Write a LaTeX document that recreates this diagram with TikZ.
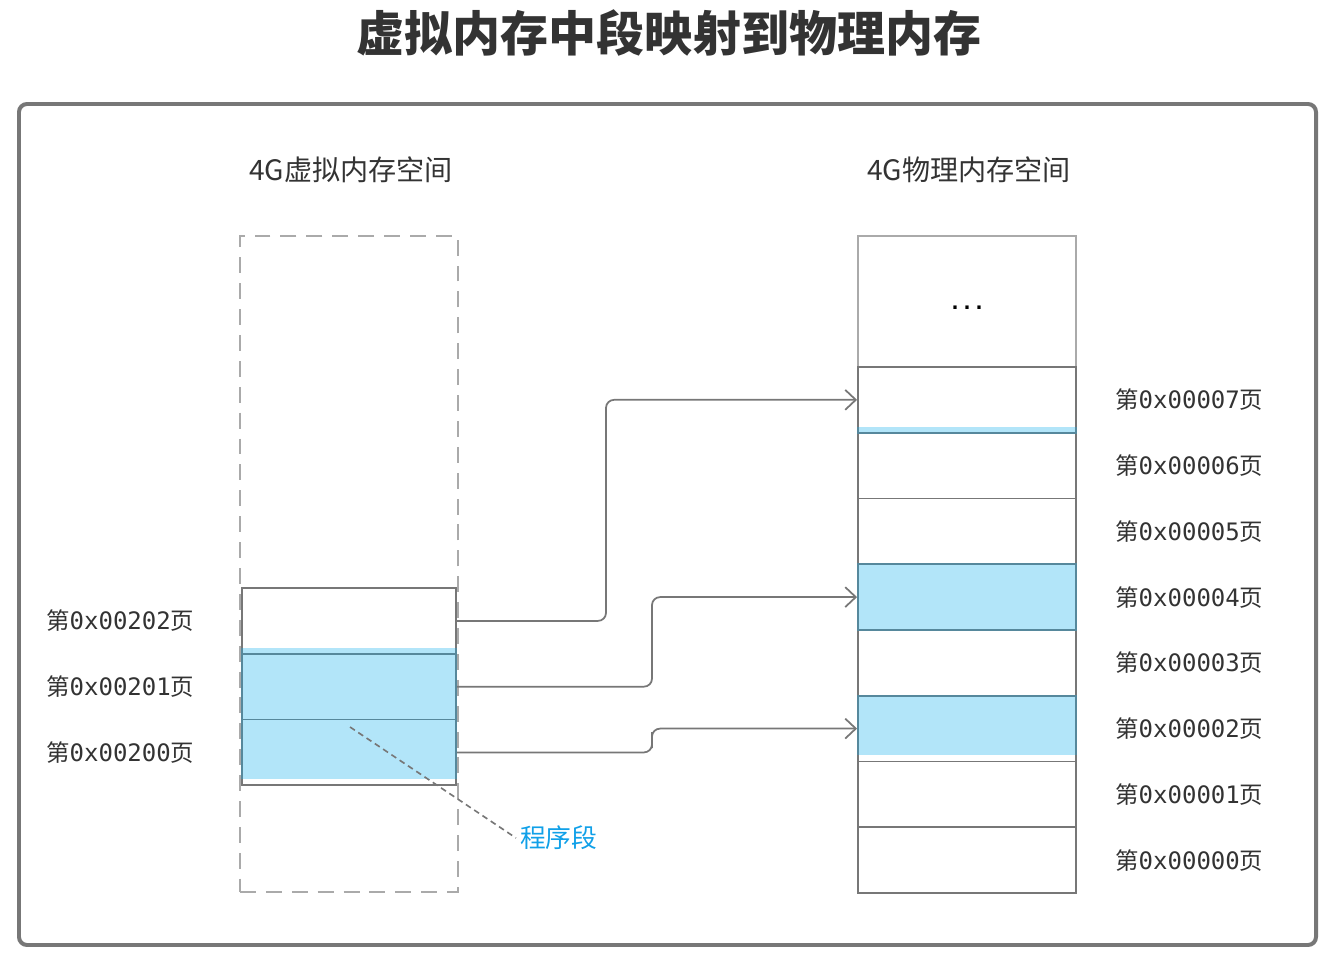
\documentclass[tikz,border=0pt]{standalone}
\usepackage{fontspec}
\usetikzlibrary{arrows.meta,calc}
\newfontfamily\cjk{Noto Sans CJK SC}
\newfontfamily\mono{DejaVu Sans Mono}
\definecolor{linegray}{RGB}{119,119,119}
\definecolor{dashgray}{RGB}{170,170,170}
\definecolor{textgray}{RGB}{51,51,51}
\definecolor{segblue}{RGB}{17,174,236}
\definecolor{segtext}{RGB}{16,160,232}
\newcommand{\pagelbl}[1]{{\fontsize{20}{22}\selectfont\cjk 第}{\fontsize{20.5}{22}\selectfont\mono 0x#1}{\fontsize{20}{22}\selectfont\cjk 页}}

\tikzset{
  pagebox/.style={draw=linegray, line width=1.6pt, minimum height=1.9725cm, inner sep=0pt},
  vpage/.style={pagebox, minimum width=6.42cm},
  ppage/.style={pagebox, minimum width=6.54cm},
  pagetext/.style={text=textgray, inner sep=0pt},
  headtext/.style={text=textgray, font=\fontsize{24}{26}\selectfont\cjk},
  seg/.style={fill=segblue, fill opacity=0.32},
  link/.style={draw=linegray, line width=1.5pt, rounded corners=0.24cm, -{Straight Barb[length=9pt,width=17pt]}},
}

\begin{document}
\begin{tikzpicture}[x=0.03cm, y=-0.03cm]
\useasboundingbox (0,0) rectangle (1335,963);

% 标题
\node[text=textgray, font=\fontsize{41}{44}\selectfont\cjk\bfseries] (title) at (669,33) {虚拟内存中段映射到物理内存};

% 外框
\draw[linegray, line width=3.4pt, rounded corners=0.24cm] (19,104) rectangle (1316,945);

% 两个空间的标题
\node[headtext] (vhead) at (351,170) {4G虚拟内存空间};
\node[headtext] (phead) at (969,170) {4G物理内存空间};

% 虚拟内存空间（虚线框）
\node[draw=dashgray, line width=1.6pt, dash pattern=on 13.6pt off 8.5pt,
      minimum width=6.54cm, minimum height=19.68cm, inner sep=0pt] (vmem) at (349,564) {};

% 虚拟页
\foreach \i/\n in {0/200,1/201,2/202} {
  \node[vpage] (v\n) at (349,{752.4-65.75*\i}) {};
  \node[pagetext, anchor=west] (vl\n) at (46,{752.4-65.75*\i}) {\pagelbl{00\n}};
}

% 物理页
\node[draw=dashgray, line width=1.6pt, minimum width=6.54cm, minimum height=3.93cm,
      inner sep=0pt, text height=13pt, text depth=0pt] (ptop) at (967,301.5)
      {\fontsize{17}{17}\selectfont\mono\bfseries ...};
\foreach \i in {0,...,7} {
  \node[ppage] (p\i) at (967,{860.1-65.75*\i}) {};
  \node[pagetext, anchor=west] (pl\i) at (1115,{860.1-65.75*\i}) {\pagelbl{0000\i}};
}

% 程序段（蓝色）
\fill[seg] ($(v202.south west)+(0,-7)$) rectangle ($(v200.south east)+(0,-7)$);
\fill[seg] ($(p7.south west)+(0,-7)$) rectangle (p7.south east);
\fill[seg] (p4.north west) rectangle (p4.south east);
\fill[seg] (p2.north west) rectangle ($(p2.south east)+(0,-7)$);

% 映射
\draw[link] (v202.east) -| (606,500) |- (p7.west);
\draw[link] (v201.east) -| (652,650) |- (p4.west);
\draw[link] (v200.east) -| (652,740) |- (p2.west);

% 说明
\node[text=segtext, font=\fontsize{22}{24}\selectfont\cjk, anchor=west] (prog) at (516,838) {程序段};
\coordinate (segpt) at (350,727);
\draw[linegray, line width=1.4pt, dash pattern=on 5pt off 3.5pt] (segpt) -- (prog.west);
\end{tikzpicture}
\end{document}
